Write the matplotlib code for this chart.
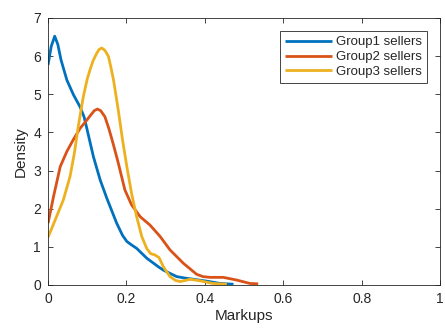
import numpy as np
import matplotlib.pyplot as plt

plt.rcParams['font.family'] = ['Liberation Sans', 'DejaVu Sans']

# Valores (densidad estimada de markups)
x1 = [0.0, 0.008, 0.017, 0.025, 0.033, 0.048, 0.065, 0.082, 0.092, 0.099, 0.108,
      0.116, 0.133, 0.150, 0.175, 0.190, 0.201, 0.213, 0.226, 0.252, 0.281,
      0.294, 0.328, 0.350, 0.371, 0.405, 0.439, 0.473]
y1 = [5.77, 6.25, 6.52, 6.30, 5.90, 5.37, 4.98, 4.66, 4.40, 4.10, 3.70,
      3.35, 2.75, 2.27, 1.62, 1.30, 1.14, 1.05, 0.96, 0.70, 0.48,
      0.39, 0.22, 0.18, 0.15, 0.10, 0.04, 0.02]

x2 = [0.0, 0.014, 0.031, 0.048, 0.065, 0.082, 0.095, 0.107, 0.118, 0.126, 0.134,
      0.145, 0.155, 0.162, 0.170, 0.179, 0.196, 0.213, 0.235, 0.260, 0.286,
      0.311, 0.345, 0.379, 0.395, 0.413, 0.447, 0.481, 0.515, 0.536]
y2 = [1.62, 2.32, 3.10, 3.50, 3.82, 4.11, 4.27, 4.43, 4.57, 4.61, 4.57,
      4.41, 4.10, 3.85, 3.55, 3.20, 2.49, 2.10, 1.79, 1.57, 1.27,
      0.92, 0.57, 0.28, 0.22, 0.20, 0.20, 0.13, 0.04, 0.03]

x3 = [0.0, 0.018, 0.039, 0.056, 0.067, 0.077, 0.090, 0.100, 0.107, 0.115, 0.124,
      0.130, 0.137, 0.145, 0.154, 0.160, 0.167, 0.179, 0.190, 0.201, 0.213,
      0.226, 0.239, 0.252, 0.262, 0.272, 0.283, 0.294, 0.311, 0.325, 0.337,
      0.350, 0.362, 0.388, 0.420, 0.456]
y3 = [1.25, 1.70, 2.23, 2.84, 3.45, 4.15, 4.94, 5.40, 5.64, 5.88, 6.07,
      6.17, 6.21, 6.15, 5.99, 5.72, 5.37, 4.59, 3.80, 3.10, 2.40,
      1.79, 1.27, 0.95, 0.82, 0.79, 0.72, 0.48, 0.22, 0.12, 0.09,
      0.12, 0.15, 0.11, 0.04, 0.02]

labels = ['Group1 sellers', 'Group2 sellers', 'Group3 sellers']
colors = ['#0072BD', '#D95319', '#EDB120']

fig = plt.figure(figsize=(4.45, 3.31), dpi=100)
ax = fig.add_axes([0.108, 0.139, 0.881, 0.807])

for xs, ys, lab, c in zip([x1, x2, x3], [y1, y2, y3], labels, colors):
    ax.plot(xs, ys, color=c, lw=2, label=lab, solid_capstyle='butt',
            solid_joinstyle='round')

ax.set_xlim(0, 1)
ax.set_ylim(0, 7)
ax.set_xticks(np.arange(0, 1.01, 0.2))
ax.set_xticklabels(['0', '0.2', '0.4', '0.6', '0.8', '1'])
ax.set_yticks(range(0, 8))
ax.tick_params(direction='in', length=3.5, width=0.6, top=True, right=True,
               labelsize=10, colors='#262626', pad=5)
for s in ax.spines.values():
    s.set_linewidth(0.6)
    s.set_color('#262626')

ax.set_xlabel('Markups', fontsize=11, color='#262626', labelpad=2)
ax.set_ylabel('Density', fontsize=11, color='#262626', labelpad=4)

leg = ax.legend(loc='upper right', bbox_to_anchor=(0.966, 0.949), borderaxespad=0,
                fontsize=9.5, handlelength=3.6, handletextpad=0.3, labelspacing=0.2,
                fancybox=False, framealpha=1, borderpad=0.35)
leg.get_frame().set_edgecolor('#262626')
leg.get_frame().set_linewidth(0.6)
for t in leg.get_texts():
    t.set_color('#262626')

fig.savefig('out.png', dpi=100)
